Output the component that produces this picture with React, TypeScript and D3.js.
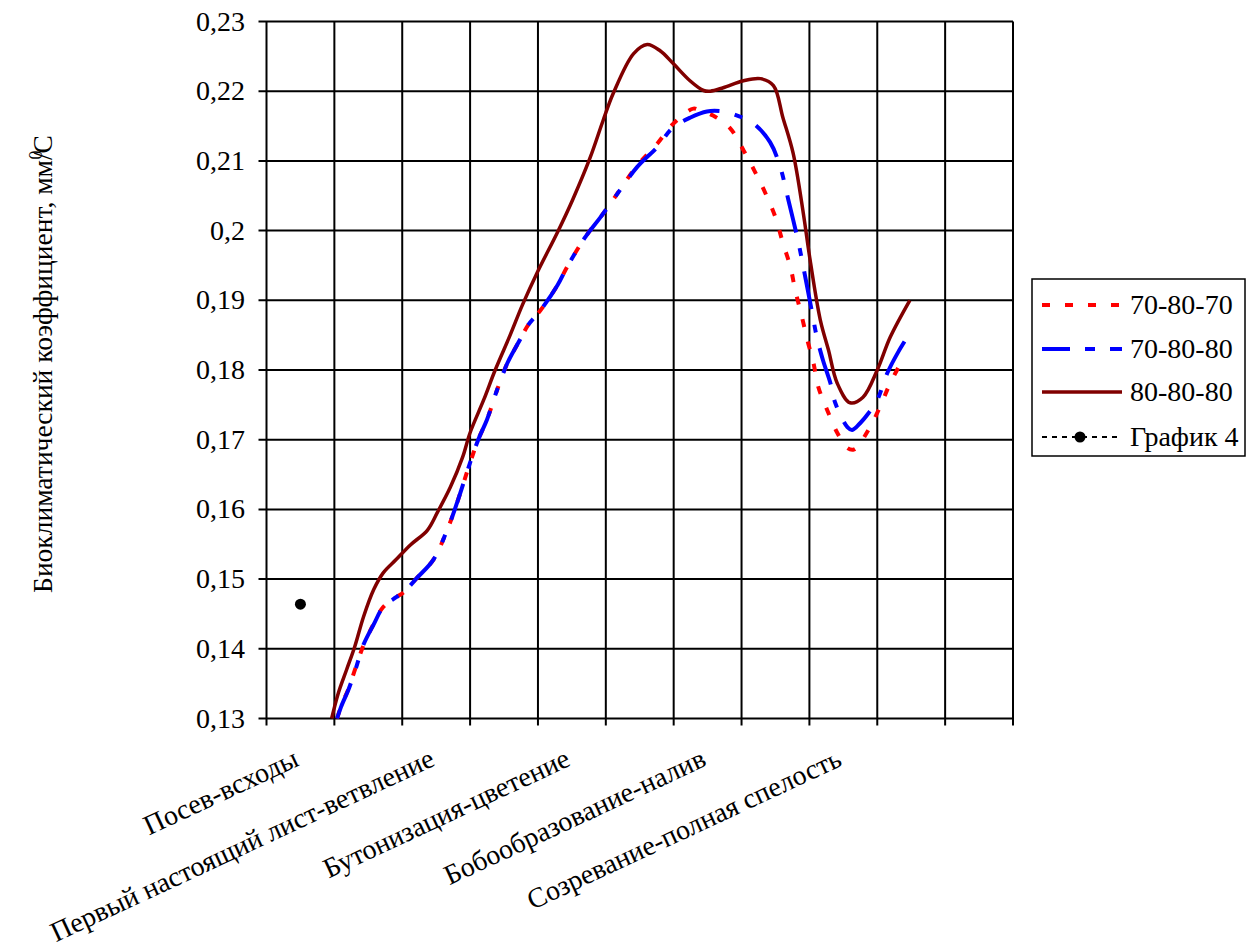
import React from 'react';
import * as d3 from 'd3';

// Category axis (11 stages / intervals, labels shown on every other category)
const categories = [
  'Посев-всходы', '',
  'Первый настоящий лист-ветвление', '',
  'Бутонизация-цветение', '',
  'Бобообразование-налив', '',
  'Созревание-полная спелость', '', '',
];

const yTicks = [0.13, 0.14, 0.15, 0.16, 0.17, 0.18, 0.19, 0.2, 0.21, 0.22, 0.23];

// Series 70-80-70 (x in category units)
const s707X = [1.04, 1.10, 1.21, 1.31, 1.43, 1.58, 1.72, 1.91, 2.02, 2.22, 2.46, 2.68, 2.81, 3.00, 3.12, 3.25, 3.40, 3.55, 3.71, 3.86, 4.04, 4.29, 4.43, 4.70, 4.92, 5.07, 5.46, 5.76, 5.98, 6.29, 6.39, 6.58, 6.83, 7.03, 7.20, 7.35, 7.50, 7.61, 7.72, 7.79, 7.89, 7.97, 8.06, 8.13, 8.26, 8.41, 8.56, 8.66, 8.87, 9.04, 9.19, 9.37];
const s707Y = [0.1300, 0.1318, 0.1343, 0.1372, 0.1405, 0.1436, 0.1460, 0.1474, 0.1481, 0.1502, 0.1528, 0.1575, 0.1610, 0.1667, 0.1700, 0.1729, 0.1772, 0.1810, 0.1839, 0.1865, 0.1886, 0.1922, 0.1948, 0.1991, 0.2019, 0.2039, 0.2093, 0.2125, 0.2152, 0.2175, 0.2172, 0.2165, 0.2147, 0.2115, 0.2084, 0.2054, 0.2019, 0.1982, 0.1948, 0.1915, 0.1876, 0.1843, 0.1810, 0.1776, 0.1743, 0.1710, 0.1688, 0.1686, 0.1714, 0.1747, 0.1781, 0.1814];

// Series 70-80-80
const s708X = [1.04, 1.10, 1.21, 1.31, 1.43, 1.58, 1.72, 1.91, 2.02, 2.22, 2.46, 2.68, 2.81, 3.00, 3.12, 3.25, 3.40, 3.55, 3.71, 3.86, 4.04, 4.29, 4.43, 4.70, 4.92, 5.07, 5.46, 5.76, 5.98, 6.24, 6.49, 6.73, 6.88, 7.17, 7.42, 7.57, 7.69, 7.84, 7.91, 8.04, 8.11, 8.20, 8.31, 8.38, 8.56, 8.63, 8.75, 8.87, 9.00, 9.15, 9.31, 9.48];
const s708Y = [0.1300, 0.1317, 0.1342, 0.1370, 0.1406, 0.1435, 0.1460, 0.1474, 0.1481, 0.1502, 0.1528, 0.1575, 0.1610, 0.1667, 0.1700, 0.1729, 0.1772, 0.1810, 0.1839, 0.1865, 0.1886, 0.1922, 0.1948, 0.1991, 0.2019, 0.2039, 0.2091, 0.2120, 0.2147, 0.2162, 0.2171, 0.2171, 0.2167, 0.2154, 0.2127, 0.2091, 0.2044, 0.1982, 0.1948, 0.1882, 0.1847, 0.1814, 0.1781, 0.1753, 0.1718, 0.1714, 0.1724, 0.1738, 0.1757, 0.1796, 0.1826, 0.1853];

// Series 80-80-80
const s808X = [0.96, 1.06, 1.18, 1.30, 1.43, 1.58, 1.72, 1.91, 2.12, 2.37, 2.52, 2.71, 2.89, 3.00, 3.20, 3.37, 3.59, 3.77, 3.99, 4.29, 4.51, 4.77, 4.96, 5.11, 5.41, 5.61, 5.80, 5.99, 6.24, 6.44, 6.54, 6.73, 7.03, 7.28, 7.47, 7.61, 7.76, 7.91, 8.01, 8.16, 8.28, 8.41, 8.60, 8.79, 9.00, 9.19, 9.48];
const s808Y = [0.1300, 0.1337, 0.1370, 0.1403, 0.1446, 0.1485, 0.1509, 0.1528, 0.1549, 0.1570, 0.1596, 0.1632, 0.1675, 0.1710, 0.1757, 0.1800, 0.1850, 0.1893, 0.1940, 0.1998, 0.2044, 0.2105, 0.2158, 0.2197, 0.2254, 0.2267, 0.2258, 0.2240, 0.2215, 0.2201, 0.2200, 0.2205, 0.2215, 0.2218, 0.2208, 0.2162, 0.2111, 0.2025, 0.1958, 0.1872, 0.1829, 0.1781, 0.1753, 0.1761, 0.1800, 0.1847, 0.1900];

// Series График 4 (single point)
const g4X = [0.5];
const g4Y = [0.1464];

const seriesNames = ['70-80-70', '70-80-80', '80-80-80', 'График 4'];

const FONT = '"Liberation Serif", "Times New Roman", serif';

export default function App() {
  const W = 1258;
  const H = 950;
  const left = 266.5;
  const right = 1013;
  const top = 21.5;
  const bottom = 718.5;

  const x = d3.scaleLinear().domain([0, categories.length]).range([left, right]);
  const y = d3.scaleLinear().domain([0.13, 0.23]).range([bottom, top]);

  const zip = (xs: number[], ys: number[]) => xs.map((v, i) => [v, ys[i]] as [number, number]);
  const line = d3
    .line<[number, number]>()
    .x((d) => x(d[0]))
    .y((d) => y(d[1]))
    .curve(d3.curveCatmullRom.alpha(0.5));

  const gridX = d3.range(0, categories.length + 1);

  const legendX = 1032;
  const legendY = 279;
  const legendRows = [305, 349, 392, 437];

  return (
    <svg width={W} height={H} style={{ position: 'absolute', left: 0, top: 0, background: '#fff' }}>
      <rect x={0} y={0} width={W} height={H} fill="#fff" />
      {/* horizontal gridlines with left tick marks */}
      {yTicks.map((t) => (
        <line key={'h' + t} x1={left - 8} x2={right} y1={y(t)} y2={y(t)} stroke="#000" strokeWidth={2} />
      ))}
      {/* vertical gridlines with bottom tick marks */}
      {gridX.map((g) => (
        <line key={'v' + g} x1={x(g)} x2={x(g)} y1={top} y2={bottom + 7} stroke="#000" strokeWidth={2} />
      ))}
      {/* y tick labels */}
      {yTicks.map((t) => (
        <text key={'yl' + t} x={245} y={y(t) + 9} fontFamily={FONT} fontSize={28} textAnchor="end" fill="#000">
          {String(t).replace('.', ',')}
        </text>
      ))}
      {/* x category labels */}
      {categories.map((c, i) =>
        c ? (
          <text
            key={'xl' + i}
            transform={`translate(${x(i + 0.5)},765) rotate(-25)`}
            fontFamily={FONT}
            fontSize={28}
            textAnchor="end"
            fill="#000"
          >
            {c}
          </text>
        ) : null
      )}
      {/* y axis title */}
      <text transform="translate(52,364) rotate(-90)" fontFamily={FONT} fontSize={27.5} textAnchor="middle" fill="#000">
        Биоклиматический коэффициент, мм/
        <tspan fontSize={18} dy={-10} dx={-7}>0</tspan>
        <tspan dy={10} dx={-3}>С</tspan>
      </text>

      {/* data lines */}
      <path d={line(zip(s707X, s707Y)) || ''} fill="none" stroke="#ff0000" strokeWidth={4} strokeDasharray="8,15" />
      <path d={line(zip(s708X, s708Y)) || ''} fill="none" stroke="#0000ff" strokeWidth={4} strokeDasharray="38,16,8,16" />
      <path d={line(zip(s808X, s808Y)) || ''} fill="none" stroke="#800000" strokeWidth={3.5} />
      {zip(g4X, g4Y).map((d, i) => (
        <circle key={'g4' + i} cx={x(d[0])} cy={y(d[1])} r={5.5} fill="#000" />
      ))}

      {/* legend */}
      <rect x={legendX} y={legendY} width={213} height={177} fill="#fff" stroke="#000" strokeWidth={1.5} />
      <line x1={1042} x2={1122} y1={legendRows[0]} y2={legendRows[0]} stroke="#ff0000" strokeWidth={4} strokeDasharray="8,15" />
      <line x1={1042} x2={1122} y1={legendRows[1]} y2={legendRows[1]} stroke="#0000ff" strokeWidth={4} strokeDasharray="28,15,10,15" />
      <line x1={1042} x2={1122} y1={legendRows[2]} y2={legendRows[2]} stroke="#800000" strokeWidth={3.5} />
      <line x1={1042} x2={1118} y1={legendRows[3]} y2={legendRows[3]} stroke="#000" strokeWidth={2} strokeDasharray="5,5" />
      <circle cx={1080} cy={legendRows[3]} r={5.5} fill="#000" />
      {seriesNames.map((n, i) => (
        <text key={'lg' + i} x={1130} y={legendRows[i] + 9} fontFamily={FONT} fontSize={28} fill="#000">
          {n}
        </text>
      ))}
    </svg>
  );
}
